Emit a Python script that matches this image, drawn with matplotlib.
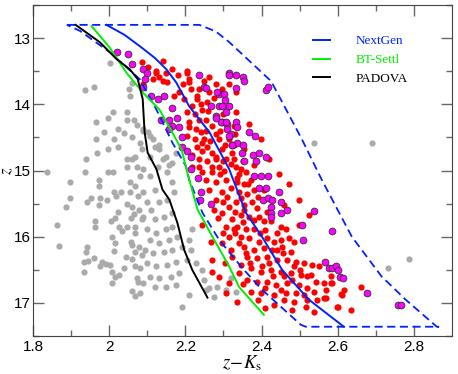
import numpy as np
import matplotlib
matplotlib.use('Agg')
import matplotlib.pyplot as plt

# isochrones (z-Ks, z)
nextgen_x = [1.993, 2.040, 2.080, 2.120, 2.150, 2.176, 2.210, 2.263, 2.315, 2.359, 2.401, 2.454, 2.524, 2.616]
nextgen_y = [12.80, 12.95, 13.12, 13.30, 13.47, 13.67, 14.03, 14.42, 14.98, 15.64, 16.00, 16.50, 16.95, 17.36]
btsettl_x = [1.954, 2.001, 2.045, 2.088, 2.132, 2.166, 2.190, 2.205, 2.232, 2.271, 2.315, 2.341, 2.406]
btsettl_y = [12.82, 13.14, 13.52, 13.82, 14.08, 14.43, 14.68, 15.03, 15.59, 16.00, 16.45, 16.76, 17.18]
padova_x = [1.912, 1.975, 2.020, 2.054, 2.075, 2.088, 2.093, 2.101, 2.124, 2.140, 2.158, 2.179, 2.197, 2.218, 2.258]
padova_y = [12.80, 13.06, 13.32, 13.47, 13.62, 13.92, 14.42, 14.73, 14.98, 15.29, 15.44, 15.79, 16.20, 16.50, 16.92]

# selection box (dashed)
box_x = [1.889, 2.237, 2.280, 2.315, 2.425, 2.506, 2.558, 2.637, 2.715, 2.778, 2.860, 2.864,
         2.516, 2.503, 2.401, 2.349, 2.289, 2.245, 2.210, 2.202, 2.166, 2.124, 2.080, 2.001, 1.923, 1.889]
box_y = [12.80, 12.80, 12.90, 13.06, 13.65, 14.53, 15.14, 16.00, 16.60, 16.95, 17.36, 17.36,
         17.36, 17.33, 16.80, 16.47, 16.05, 15.64, 15.14, 14.94, 14.58, 14.08, 13.62, 13.21, 12.89, 12.80]

gray_pts = np.array([
    (1.936, 13.79), (1.959, 13.74), (2.001, 13.38), (2.009, 14.11), (1.965, 14.27), (1.996, 14.21),
    (2.022, 14.38), (1.986, 14.42), (1.965, 14.53), (2.012, 14.52), (2.038, 14.44), (2.048, 14.12),
    (2.046, 14.24), (2.064, 14.24), (2.051, 13.77), (2.054, 13.88), (2.061, 13.68), (2.072, 14.32),
    (2.022, 14.64), (1.996, 14.68), (1.967, 14.73), (1.939, 14.82), (2.059, 14.50), (2.080, 14.58),
    (2.046, 14.83), (2.059, 14.83), (2.067, 14.80), (2.048, 14.95), (2.072, 14.94), (2.009, 15.02),
    (1.996, 15.03), (1.973, 15.14), (1.936, 15.03), (1.897, 15.18), (1.837, 15.02), (2.085, 14.68),
    (2.080, 15.09), (2.054, 15.17), (2.088, 14.41),
    (1.973, 15.23), (2.012, 15.32), (2.030, 15.33), (2.017, 15.38), (2.054, 15.33), (2.067, 15.24),
    (2.075, 15.39), (1.897, 15.42), (1.941, 15.47), (1.952, 15.41), (1.973, 15.52), (1.975, 15.41),
    (1.993, 15.44), (1.886, 15.55), (2.048, 15.50), (2.061, 15.55), (2.077, 15.59), (2.022, 15.62),
    (2.014, 15.71), (2.004, 15.77), (1.962, 15.76), (1.962, 15.86), (1.863, 15.83), (2.056, 15.71),
    (2.064, 15.65), (2.027, 15.85), (2.033, 15.92), (2.048, 15.85), (2.067, 15.85), (2.067, 15.94),
    (2.085, 15.73), (2.007, 16.00), (2.014, 16.09), (2.056, 16.08), (2.061, 16.12), (2.077, 16.15),
    (1.868, 16.14), (1.941, 16.15), (1.939, 16.23), (2.012, 16.21), (2.043, 16.30), (2.059, 16.33),
    (2.067, 16.23), (2.085, 16.27), (1.959, 16.32), (1.944, 16.36), (1.933, 16.38), (1.980, 16.38),
    (1.991, 16.41), (2.001, 16.42), (1.975, 16.45), (1.933, 16.53), (2.007, 16.53), (2.014, 16.61),
    (2.025, 16.58), (2.038, 16.48), (2.069, 16.45), (2.082, 16.48), (2.072, 16.62), (2.075, 16.68),
    (2.007, 16.70), (2.059, 16.82), (2.069, 16.89), (2.080, 16.85),
    (2.106, 15.09), (2.088, 15.33), (2.119, 15.29), (2.098, 15.47), (2.132, 15.48), (2.111, 15.59),
    (2.153, 15.44), (2.166, 15.18), (2.171, 15.33), (2.088, 15.70), (2.119, 15.74), (2.145, 15.70),
    (2.166, 15.64), (2.098, 15.89), (2.124, 15.94), (2.150, 15.89), (2.166, 15.85), (2.106, 16.05),
    (2.132, 16.09), (2.158, 16.05), (2.179, 16.00), (2.093, 16.20), (2.114, 16.24), (2.145, 16.23),
    (2.166, 16.20), (2.192, 16.15), (2.216, 16.20), (2.098, 16.39), (2.124, 16.45), (2.153, 16.42),
    (2.176, 16.38), (2.205, 16.35), (2.229, 16.39), (2.106, 16.61), (2.132, 16.62), (2.163, 16.61),
    (2.184, 16.55), (2.088, 16.70), (2.119, 16.76), (2.150, 16.76), (2.176, 16.73), (2.210, 16.88),
    (2.190, 17.06), (2.250, 16.65), (2.244, 16.50), (2.284, 16.76), (2.276, 16.91), (2.263, 16.77),
    (2.218, 15.89), (2.210, 16.05), (2.255, 16.80),
    (2.088, 14.38), (2.106, 14.48), (2.119, 14.64), (2.132, 14.68), (2.140, 14.83), (2.106, 14.80),
    (2.127, 14.95), (2.088, 14.98), (2.158, 14.91), (2.153, 15.02), (2.101, 14.42), (2.114, 14.53),
    (2.132, 14.62), (2.150, 14.79), (2.166, 14.88), (2.176, 14.73),
    (2.320, 16.62), (2.333, 16.83), (2.307, 16.80),
    (2.537, 14.58), (2.689, 14.59), (2.788, 16.33), (2.733, 16.48),
])

red_pts = np.array([
    (2.085, 13.36), (2.101, 13.44), (2.124, 13.50), (2.150, 13.52), (2.132, 13.58), (2.114, 13.62),
    (2.140, 13.65), (2.153, 13.67), (2.205, 13.52), (2.210, 13.67), (2.216, 13.77), (2.184, 13.82),
    (2.171, 13.88), (2.197, 13.92), (2.231, 13.88), (2.242, 14.00), (2.263, 13.58), (2.281, 13.70),
    (2.297, 13.77), (2.315, 13.70), (2.333, 13.82), (2.263, 13.82), (2.258, 13.97), (2.218, 14.03),
    (2.203, 14.12), (2.224, 14.15), (2.210, 14.26), (2.237, 14.23), (2.255, 14.23), (2.210, 14.35),
    (2.229, 14.38), (2.242, 14.42), (2.203, 14.48), (2.224, 14.53), (2.250, 14.53), (2.231, 14.64),
    (2.258, 14.64), (2.244, 14.71), (2.271, 14.73), (2.218, 14.76), (2.237, 14.83), (2.258, 14.86),
    (2.281, 14.83), (2.271, 14.95), (2.289, 14.94), (2.307, 14.83), (2.297, 14.68), (2.315, 14.53),
    (2.289, 14.53), (2.323, 14.73), (2.333, 14.94), (2.244, 15.02), (2.218, 14.94), (2.294, 14.27),
    (2.328, 14.33), (2.315, 14.03), (2.333, 14.11), (2.088, 13.70),
    (2.140, 13.35), (2.124, 13.52), (2.166, 13.47), (2.205, 13.50), (2.210, 13.62), (2.237, 13.77),
    (2.231, 13.92), (2.328, 14.61), (2.328, 14.83), (2.346, 14.98), (2.359, 15.03), (2.336, 15.11),
    (2.336, 15.17), (2.354, 15.21), (2.373, 15.14), (2.341, 15.32), (2.362, 15.36), (2.380, 15.29),
    (2.333, 15.48), (2.354, 15.52), (2.375, 15.48), (2.388, 15.56), (2.346, 15.67), (2.367, 15.70),
    (2.393, 15.70), (2.414, 15.62), (2.425, 15.77), (2.406, 15.77), (2.336, 15.85), (2.359, 15.89),
    (2.380, 15.89), (2.451, 15.86), (2.464, 15.89), (2.346, 16.00), (2.367, 16.02), (2.393, 16.08),
    (2.414, 16.02), (2.433, 16.08), (2.451, 16.05), (2.472, 16.02), (2.485, 16.08), (2.354, 16.15),
    (2.380, 16.20), (2.406, 16.17), (2.427, 16.20), (2.454, 16.15), (2.477, 16.23), (2.362, 16.30),
    (2.388, 16.32), (2.414, 16.30), (2.440, 16.35), (2.467, 16.35), (2.490, 16.38), (2.511, 16.39),
    (2.532, 16.42), (2.550, 16.45), (2.346, 16.42), (2.373, 16.47), (2.399, 16.53), (2.425, 16.50),
    (2.451, 16.53), (2.477, 16.55), (2.503, 16.58), (2.529, 16.58), (2.563, 16.70), (2.582, 16.70),
    (2.542, 16.68), (2.362, 16.65), (2.388, 16.68), (2.414, 16.68), (2.438, 16.73), (2.467, 16.70),
    (2.498, 16.73), (2.519, 16.77), (2.373, 16.83), (2.399, 16.85), (2.433, 16.88), (2.464, 16.85),
    (2.490, 16.85), (2.511, 16.88), (2.537, 16.83), (2.563, 16.92), (2.459, 16.95), (2.485, 16.98),
    (2.516, 17.06), (2.537, 17.14), (2.336, 16.98), (2.433, 17.03),
    (2.660, 16.76), (2.634, 17.11), (2.597, 17.06), (2.616, 16.80), (2.610, 16.88), (2.569, 16.92),
    (2.582, 16.59), (2.584, 16.70), (2.608, 16.86), (2.600, 17.06),
    (2.255, 15.14), (2.281, 15.18), (2.263, 15.29), (2.297, 15.33), (2.281, 15.44), (2.315, 15.55),
    (2.297, 15.64), (2.323, 15.74), (2.307, 15.85), (2.328, 15.89), (2.315, 16.00), (2.297, 16.09),
    (2.268, 16.08), (2.244, 15.82), (2.323, 16.30), (2.271, 16.53), (2.289, 16.61), (2.315, 16.70),
    (2.307, 16.85), (2.271, 16.35),
    (2.244, 14.08), (2.271, 14.33), (2.244, 14.58), (2.281, 14.79), (2.237, 14.94), (2.271, 15.03),
    (2.307, 15.14),
    (2.367, 14.30), (2.399, 14.53), (2.354, 14.68), (2.420, 14.83), (2.446, 15.06), (2.380, 14.91),
    (2.472, 15.21), (2.406, 15.29), (2.498, 15.44), (2.459, 15.52), (2.524, 15.67), (2.498, 15.82),
    (2.302, 15.00), (2.320, 15.27), (2.345, 15.42), (2.300, 15.47), (2.330, 15.62), (2.285, 15.72),
    (2.350, 15.78), (2.300, 15.95), (2.340, 16.10), (2.320, 16.20), (2.370, 16.40), (2.340, 16.55),
    (2.290, 14.40), (2.305, 14.62), (2.265, 14.55), (2.330, 14.45), (2.350, 14.85), (2.365, 15.20),
    (2.390, 15.40), (2.410, 15.90), (2.440, 15.95), (2.420, 16.40), (2.460, 16.60), (2.500, 16.50),
    (2.390, 16.95), (2.410, 16.78), (2.480, 16.65), (2.545, 16.95), (2.570, 16.80), (2.455, 16.25),
    (2.180, 13.55), (2.195, 13.70), (2.250, 13.65), (2.275, 13.90), (2.300, 14.15), (2.260, 14.10),
    (2.280, 14.45), (2.255, 14.40), (2.300, 14.85), (2.320, 14.90), (2.290, 15.05), (2.340, 15.05),
    (2.275, 15.60), (2.310, 15.40), (2.355, 15.60), (2.380, 15.75), (2.330, 15.95), (2.395, 15.95),
    (2.360, 16.25), (2.440, 16.20), (2.400, 16.45), (2.430, 16.60), (2.485, 16.45), (2.520, 16.60),
    (2.450, 16.80), (2.520, 16.95), (2.480, 17.10), (2.350, 16.72), (2.410, 17.08), (2.305, 16.40),
])

mag_pts = np.array([
    (2.020, 13.21), (2.049, 13.24), (2.059, 13.39), (2.090, 13.47), (2.098, 13.52), (2.095, 13.62),
    (2.088, 13.74), (2.111, 13.88), (2.127, 13.92), (2.145, 13.88), (2.166, 14.05), (2.137, 14.23),
    (2.158, 14.23), (2.179, 14.20), (2.166, 14.33), (2.184, 14.35), (2.158, 14.38), (2.190, 14.50),
    (2.190, 14.64), (2.205, 14.71), (2.216, 14.79), (2.234, 15.11), (2.237, 13.55), (2.250, 13.74),
    (2.268, 14.03), (2.289, 14.03), (2.315, 14.03), (2.281, 14.18), (2.297, 14.26), (2.310, 14.29),
    (2.289, 13.85),
    (2.315, 13.52), (2.333, 13.55), (2.352, 13.58), (2.354, 13.65), (2.333, 13.76), (2.302, 13.85),
    (2.305, 13.94), (2.297, 14.03), (2.307, 14.12), (2.294, 14.26), (2.307, 14.27), (2.333, 14.27),
    (2.336, 14.35), (2.310, 14.38), (2.320, 14.45), (2.367, 14.42), (2.383, 14.48), (2.323, 14.62),
    (2.336, 14.58), (2.352, 14.62), (2.349, 14.73), (2.378, 14.77), (2.393, 14.74), (2.386, 14.86),
    (2.412, 14.80), (2.354, 14.86), (2.417, 15.09), (2.380, 15.08), (2.399, 15.09), (2.412, 13.79),
    (2.417, 13.74),
    (2.393, 15.26), (2.412, 15.26), (2.446, 15.32), (2.404, 15.44), (2.417, 15.42), (2.427, 15.45),
    (2.451, 15.47), (2.425, 15.55), (2.425, 15.64), (2.451, 15.64), (2.467, 15.59), (2.425, 15.70),
    (2.537, 15.61), (2.506, 15.82), (2.509, 16.05), (2.584, 15.92), (2.566, 16.38), (2.576, 16.47),
    (2.584, 16.47), (2.595, 16.44), (2.600, 16.50), (2.605, 16.61), (2.613, 16.62), (2.676, 16.85),
    (2.757, 17.03), (2.767, 17.03),
    (2.242, 15.32), (2.239, 15.44), (2.268, 15.50), (2.216, 14.98),
    (2.255, 13.76), (2.284, 13.82), (2.315, 13.55), (2.281, 14.20), (2.315, 14.48), (2.323, 14.61),
])

plt.rcParams['font.family'] = 'Liberation Sans'
plt.rcParams['mathtext.fontset'] = 'stix'

fig = plt.figure(figsize=(4.58, 3.74), dpi=100)
ax = fig.add_axes([0.072, 0.1016, 0.915, 0.885])

ax.scatter(gray_pts[:, 0], gray_pts[:, 1], s=20, color='#aaaaaa', linewidths=0, zorder=2)
ax.scatter(red_pts[:, 0], red_pts[:, 1], s=20, color='#ff0000', linewidths=0, zorder=3)
ax.scatter(mag_pts[:, 0], mag_pts[:, 1], s=24, color='#ff00ff', edgecolors='#333333',
           linewidths=0.6, zorder=4)

ax.plot(box_x, box_y, color='#0022ff', lw=1.3, ls=(0, (4.5, 2.5)), zorder=5)
ax.plot(nextgen_x, nextgen_y, color='#0022ff', lw=1.4, label='NextGen', zorder=6)
ax.plot(btsettl_x, btsettl_y, color='#00ee00', lw=1.4, label='BT-Settl', zorder=6)
ax.plot(padova_x, padova_y, color='black', lw=1.4, label='PADOVA', zorder=6)

leg = ax.legend(loc='upper left', bbox_to_anchor=(0.64, 0.945), frameon=False,
                handlelength=1.3, handletextpad=1.9, labelspacing=0.5,
                prop={'family': 'Liberation Serif', 'size': 9.5})
for txt, line in zip(leg.get_texts(), leg.get_lines()):
    txt.set_color(line.get_color())

ax.set_xlim(1.8, 2.9)
ax.set_ylim(17.5, 12.5)
ax.set_xticks([1.8, 2.0, 2.2, 2.4, 2.6, 2.8])
ax.set_xticklabels(['1.8', '2', '2.2', '2.4', '2.6', '2.8'])
ax.set_xticks(np.arange(1.9, 2.9, 0.2), minor=True)
ax.set_yticks([13, 14, 15, 16, 17])
ax.set_yticks([12.5, 13.5, 14.5, 15.5, 16.5, 17.5], minor=True)
ax.tick_params(which='both', direction='in', top=True, right=True, color='#666666',
               labelsize=11)
ax.tick_params(which='major', length=8, width=1)
ax.tick_params(which='minor', length=4, width=1)
ax.tick_params(axis='y', pad=1.5)
ax.tick_params(axis='x', pad=3)
for sp in ax.spines.values():
    sp.set_color('#444444')

ax.set_xlabel(r'$z\!-\!K_{\rm s}$', fontsize=13.5)
ax.set_ylabel(r'$z$', fontsize=12)
ax.xaxis.set_label_coords(0.5, -0.052, transform=ax.transAxes)
ax.yaxis.set_label_coords(-0.042, 0.5, transform=ax.transAxes)

fig.savefig('out.png', dpi=100)
